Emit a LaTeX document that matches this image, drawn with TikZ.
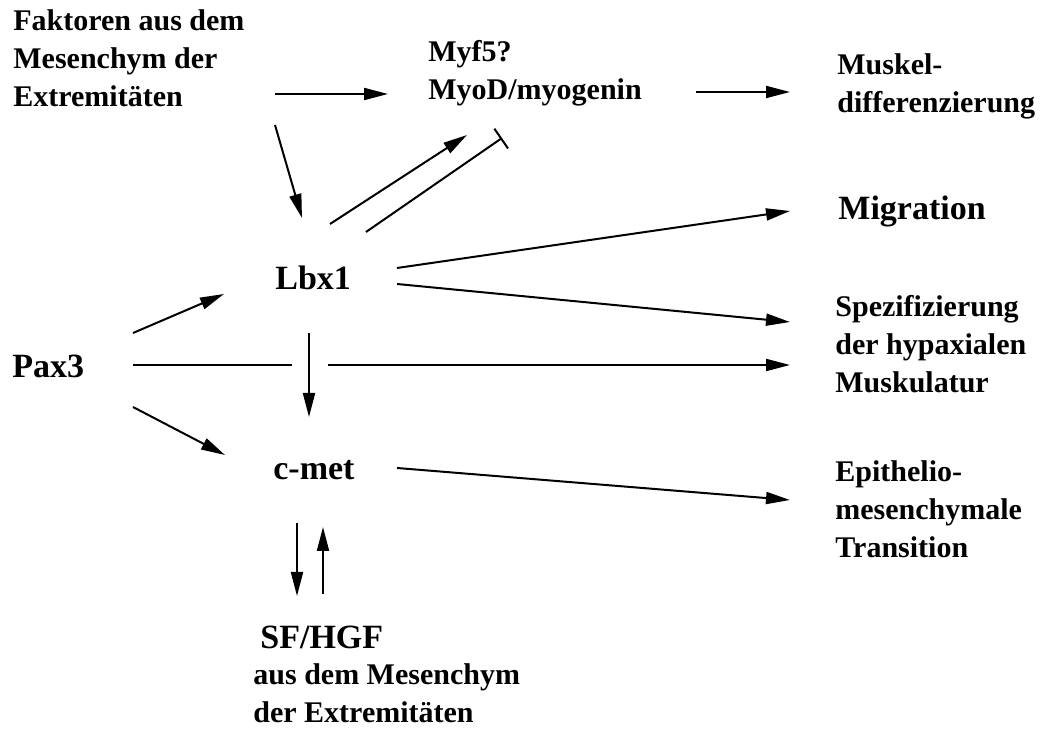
\documentclass[tikz,border=0pt]{standalone}
\usepackage{fontspec}
\setmainfont{Liberation Serif}
\usetikzlibrary{arrows.meta}

\tikzset{
  txt/.style={font=\bfseries\fontsize{15}{19}\selectfont, align=left, inner sep=0pt, anchor=base west},
  gross/.style={font=\bfseries\fontsize{17}{20}\selectfont, inner sep=0pt, anchor=base west},
  strich/.style={line width=1pt},
  pfeil/.style={strich, -{Triangle[length=12pt,width=6pt]}},
  hemm/.style={strich, -{Bar[width=12pt,line width=1pt]}},
}

\begin{document}
\begin{tikzpicture}[x=0.5pt, y=-0.5pt]

\useasboundingbox (0,0) rectangle (1040,731);

% === KNOTEN ===
\node[txt]   (fak) at (13,107)  {Faktoren aus dem\\Mesenchym der\\Extremitäten};
\node[txt]   (myo) at (428,100) {Myf5?\\MyoD/myogenin};
\node[txt]   (mus) at (837,113) {Muskel-\\differenzierung};
\node[gross] (mig) at (838,220) {Migration};
\node[gross] (lbx) at (275,290) {Lbx1};
\node[txt]   (spz) at (835,393) {Spezifizierung\\der hypaxialen\\Muskulatur};
\node[gross] (pax) at (12,378)  {Pax3};
\node[gross] (cmt) at (273,480) {c-met};
\node[txt]   (epi) at (835,558) {Epithelio-\\mesenchymale\\Transition};
\node[gross] (sfh) at (260,649) {SF/HGF};
\node[txt]   (ext) at (253,723) {aus dem Mesenchym\\der Extremitäten};

% === PFEILE OBEN ===
\draw[pfeil] ([shift={(262,-13)}]fak.base west) -- ([shift={(-40,-6)}]myo.base west);
\draw[pfeil] ([shift={(262,18)}]fak.base west)  -- ([shift={(27,-72)}]lbx.base west);
\draw[pfeil] ([shift={(268,-8)}]myo.base west)  -- ([shift={(-47,-21)}]mus.base west);
\draw[pfeil] ([shift={(55,-66)}]lbx.base west)  -- ([shift={(39,35)}]myo.base west);
\draw[hemm]  ([shift={(91,-58)}]lbx.base west)  -- ([shift={(74,38)}]myo.base west);

% === PFEILE VON Lbx1 ===
\draw[pfeil] ([shift={(122,-22)}]lbx.base west) -- ([shift={(-48,-9)}]mig.base west);
\draw[pfeil] ([shift={(122,-6)}]lbx.base west)  -- ([shift={(-45,-71)}]spz.base west);
\draw[pfeil] ([shift={(34,43)}]lbx.base west)   -- ([shift={(36,-63)}]cmt.base west);

% === PFEILE VON Pax3 ===
\draw[pfeil]  ([shift={(121,-45)}]pax.base west) -- ([shift={(-51,4)}]lbx.base west);
\draw[strich] ([shift={(121,-13)}]pax.base west) -- ([shift={(280,-13)}]pax.base west);
\draw[pfeil]  ([shift={(316,-13)}]pax.base west) -- ([shift={(-45,-28)}]spz.base west);
\draw[pfeil]  ([shift={(121,29)}]pax.base west)  -- ([shift={(-48,-25)}]cmt.base west);

% === PFEILE VON c-met ===
\draw[pfeil] ([shift={(124,-12)}]cmt.base west) -- ([shift={(-45,-58)}]epi.base west);
\draw[pfeil] ([shift={(24,43)}]cmt.base west)   -- ([shift={(37,-53)}]sfh.base west);
\draw[pfeil] ([shift={(63,-55)}]sfh.base west)  -- ([shift={(50,47)}]cmt.base west);

\end{tikzpicture}
\end{document}
